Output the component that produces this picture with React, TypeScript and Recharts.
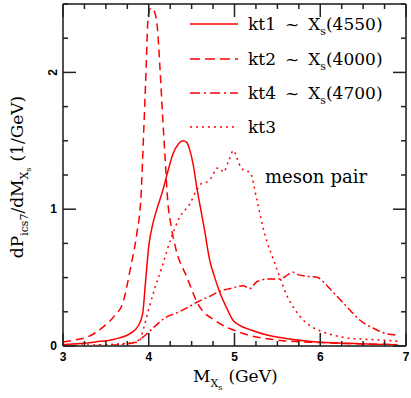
import { LineChart, Line, XAxis, YAxis } from "recharts";

// kt1 ~ Xs(4550), solid
const KT1 = [
  { x: 3.0, y: 0.01 }, { x: 3.2, y: 0.018 }, { x: 3.38, y: 0.03 }, { x: 3.6, y: 0.05 },
  { x: 3.78, y: 0.09 }, { x: 3.88, y: 0.15 }, { x: 3.93, y: 0.24 }, { x: 3.96, y: 0.45 },
  { x: 4.0, y: 0.73 }, { x: 4.05, y: 0.9 }, { x: 4.1, y: 1.01 }, { x: 4.16, y: 1.13 },
  { x: 4.22, y: 1.27 }, { x: 4.28, y: 1.4 }, { x: 4.35, y: 1.48 }, { x: 4.4, y: 1.5 },
  { x: 4.44, y: 1.49 }, { x: 4.48, y: 1.43 }, { x: 4.52, y: 1.32 }, { x: 4.56, y: 1.16 },
  { x: 4.6, y: 1.02 }, { x: 4.65, y: 0.85 }, { x: 4.71, y: 0.63 }, { x: 4.77, y: 0.5 },
  { x: 4.83, y: 0.39 }, { x: 4.9, y: 0.29 }, { x: 4.98, y: 0.19 }, { x: 5.05, y: 0.155 },
  { x: 5.2, y: 0.115 }, { x: 5.38, y: 0.08 }, { x: 5.6, y: 0.055 }, { x: 5.96, y: 0.03 },
  { x: 6.3, y: 0.02 }, { x: 6.6, y: 0.013 }, { x: 6.9, y: 0.01 },
];

// kt2 ~ Xs(4000), dashed
const KT2 = [
  { x: 3.0, y: 0.03 }, { x: 3.15, y: 0.045 }, { x: 3.3, y: 0.07 }, { x: 3.47, y: 0.14 },
  { x: 3.6, y: 0.22 }, { x: 3.7, y: 0.32 }, { x: 3.79, y: 0.58 }, { x: 3.86, y: 0.82 },
  { x: 3.91, y: 1.1 }, { x: 3.94, y: 1.55 }, { x: 3.97, y: 2.04 }, { x: 3.99, y: 2.38 },
  { x: 4.01, y: 2.46 }, { x: 4.04, y: 2.47 }, { x: 4.07, y: 2.44 }, { x: 4.1, y: 2.33 },
  { x: 4.13, y: 2.04 }, { x: 4.16, y: 1.7 }, { x: 4.19, y: 1.38 }, { x: 4.22, y: 1.07 },
  { x: 4.26, y: 0.88 }, { x: 4.32, y: 0.7 }, { x: 4.44, y: 0.51 }, { x: 4.58, y: 0.3 },
  { x: 4.79, y: 0.18 }, { x: 5.06, y: 0.1 }, { x: 5.49, y: 0.044 }, { x: 6.0, y: 0.025 },
  { x: 6.5, y: 0.015 }, { x: 6.9, y: 0.01 },
];

// kt4 ~ Xs(4700), dash-dot
const KT4 = [
  { x: 3.0, y: 0.0 }, { x: 3.5, y: 0.005 }, { x: 3.8, y: 0.02 }, { x: 3.9, y: 0.05 },
  { x: 3.98, y: 0.09 }, { x: 4.1, y: 0.16 }, { x: 4.2, y: 0.21 }, { x: 4.32, y: 0.24 },
  { x: 4.45, y: 0.28 }, { x: 4.56, y: 0.32 }, { x: 4.7, y: 0.36 }, { x: 4.83, y: 0.4 },
  { x: 4.95, y: 0.42 }, { x: 5.1, y: 0.44 }, { x: 5.18, y: 0.42 }, { x: 5.26, y: 0.47 },
  { x: 5.4, y: 0.49 }, { x: 5.53, y: 0.49 }, { x: 5.62, y: 0.52 }, { x: 5.68, y: 0.54 },
  { x: 5.75, y: 0.52 }, { x: 5.84, y: 0.51 }, { x: 5.97, y: 0.5 }, { x: 6.05, y: 0.46 },
  { x: 6.11, y: 0.42 }, { x: 6.23, y: 0.34 }, { x: 6.35, y: 0.26 }, { x: 6.46, y: 0.19 },
  { x: 6.62, y: 0.13 }, { x: 6.77, y: 0.09 }, { x: 6.9, y: 0.08 },
];

// kt3, dotted
const KT3 = [
  { x: 3.0, y: 0.005 }, { x: 3.5, y: 0.01 }, { x: 3.75, y: 0.02 }, { x: 3.88, y: 0.03 },
  { x: 3.95, y: 0.15 }, { x: 4.0, y: 0.27 }, { x: 4.07, y: 0.42 }, { x: 4.15, y: 0.57 },
  { x: 4.25, y: 0.77 }, { x: 4.36, y: 0.94 }, { x: 4.48, y: 1.04 }, { x: 4.56, y: 1.14 },
  { x: 4.62, y: 1.19 }, { x: 4.68, y: 1.2 }, { x: 4.74, y: 1.24 }, { x: 4.79, y: 1.3 },
  { x: 4.83, y: 1.3 }, { x: 4.87, y: 1.27 }, { x: 4.93, y: 1.35 }, { x: 4.99, y: 1.43 },
  { x: 5.03, y: 1.37 }, { x: 5.08, y: 1.3 }, { x: 5.13, y: 1.28 }, { x: 5.18, y: 1.27 },
  { x: 5.26, y: 1.07 }, { x: 5.32, y: 0.9 }, { x: 5.38, y: 0.76 }, { x: 5.45, y: 0.64 },
  { x: 5.53, y: 0.5 }, { x: 5.61, y: 0.37 }, { x: 5.7, y: 0.27 }, { x: 5.8, y: 0.19 },
  { x: 5.9, y: 0.14 }, { x: 6.0, y: 0.11 }, { x: 6.15, y: 0.08 }, { x: 6.31, y: 0.06 },
  { x: 6.5, y: 0.05 }, { x: 6.7, y: 0.044 }, { x: 6.9, y: 0.035 },
];

const X_TICKS = [3, 3.25, 3.5, 3.75, 4, 4.25, 4.5, 4.75, 5, 5.25, 5.5, 5.75, 6, 6.25, 6.5, 6.75, 7];
const X_LABELS = [3, 4, 5, 6, 7];
const Y_TICKS = [0, 0.25, 0.5, 0.75, 1, 1.25, 1.5, 1.75, 2, 2.25, 2.5];
const Y_LABELS = [0, 1, 2];

const RED = "#ff0000";
const FRAME = "#505050";
const TICK = "#222";
const SERIF = "'DejaVu Serif', serif";
const SANS = "'Liberation Sans', Arial, sans-serif";
const MAJOR = 13;
const MINOR = 5;

const frameLine = { stroke: FRAME, strokeWidth: 2 };

function BottomTick({ x, y, payload }: any) {
  const v = payload.value;
  const major = X_LABELS.includes(v);
  return (
    <g>
      <line x1={x} x2={x} y1={y} y2={y - (major ? MAJOR : MINOR)} stroke={TICK} strokeWidth={1.5} />
      {major && (
        <text x={x} y={y + 15} textAnchor="middle" fontFamily={SANS} fontWeight="bold" fontSize={12} fill="#000">
          {v}
        </text>
      )}
    </g>
  );
}

function TopTick({ x, y, payload }: any) {
  const major = X_LABELS.includes(payload.value);
  return <line x1={x} x2={x} y1={y} y2={y + (major ? MAJOR : MINOR)} stroke={TICK} strokeWidth={1.5} />;
}

function LeftTick({ x, y, payload }: any) {
  const v = payload.value;
  const major = Y_LABELS.includes(v);
  return (
    <g>
      <line x1={x} x2={x + (major ? MAJOR : MINOR)} y1={y} y2={y} stroke={TICK} strokeWidth={1.5} />
      {major && (
        <g transform={v === 2 ? `rotate(-90 ${x - 10} ${y})` : undefined}>
          <text
            x={v === 2 ? x - 10 : x - 6}
            y={y + 4}
            textAnchor={v === 2 ? "middle" : "end"}
            fontFamily={SANS}
            fontWeight="bold"
            fontSize={12}
            fill="#000"
          >
            {v}
          </text>
        </g>
      )}
    </g>
  );
}

function RightTick({ x, y, payload }: any) {
  const major = Y_LABELS.includes(payload.value);
  return <line x1={x} x2={x - (major ? MAJOR : MINOR)} y1={y} y2={y} stroke={TICK} strokeWidth={1.5} />;
}

const LEGEND = [
  { name: "kt1", mass: "4550", dash: undefined, y: 24 },
  { name: "kt2", mass: "4000", dash: "10 5", y: 59 },
  { name: "kt4", mass: "4700", dash: "10 4 2 4", y: 93 },
  { name: "kt3", mass: "", dash: "2 4", y: 127 },
];

export default function App() {
  return (
    <div style={{ position: "absolute", left: 0, top: 0, width: 411, height: 398, background: "#fff" }}>
      <LineChart width={411} height={398} margin={{ top: 0, right: 0, bottom: 22, left: 3 }}>
        <XAxis
          type="number"
          dataKey="x"
          domain={[3, 7]}
          ticks={X_TICKS}
          interval={0}
          height={30}
          tickSize={0}
          tickMargin={0}
          axisLine={frameLine}
          tickLine={false}
          tick={<BottomTick />}
          allowDataOverflow
        />
        <XAxis
          xAxisId="top"
          orientation="top"
          type="number"
          dataKey="x"
          domain={[3, 7]}
          ticks={X_TICKS}
          interval={0}
          height={4}
          tickSize={0}
          tickMargin={0}
          axisLine={frameLine}
          tickLine={false}
          tick={<TopTick />}
          allowDataOverflow
        />
        <YAxis
          type="number"
          domain={[0, 2.5]}
          ticks={Y_TICKS}
          interval={0}
          width={60}
          tickSize={0}
          tickMargin={0}
          axisLine={frameLine}
          tickLine={false}
          tick={<LeftTick />}
          allowDataOverflow
        />
        <YAxis
          yAxisId="right"
          orientation="right"
          type="number"
          domain={[0, 2.5]}
          ticks={Y_TICKS}
          interval={0}
          width={5}
          tickSize={0}
          tickMargin={0}
          axisLine={frameLine}
          tickLine={false}
          tick={<RightTick />}
          allowDataOverflow
        />
        <Line data={KT2} dataKey="y" type="monotone" stroke={RED} strokeWidth={1.5} strokeDasharray="8 5" dot={false} isAnimationActive={false} />
        <Line data={KT4} dataKey="y" type="monotone" stroke={RED} strokeWidth={1.5} strokeDasharray="8 3 2 3" dot={false} isAnimationActive={false} />
        <Line data={KT3} dataKey="y" type="monotone" stroke={RED} strokeWidth={1.5} strokeDasharray="2 4" dot={false} isAnimationActive={false} />
        <Line data={KT1} dataKey="y" type="monotone" stroke={RED} strokeWidth={1.5} dot={false} isAnimationActive={false} />
      </LineChart>
      <svg width={411} height={398} style={{ position: "absolute", left: 0, top: 0, pointerEvents: "none" }}>
        {LEGEND.map((l) => (
          <g key={l.name}>
            <line x1={190} x2={238} y1={l.y} y2={l.y} stroke={RED} strokeWidth={1.5} strokeDasharray={l.dash} />
            <text x={248} y={l.y + 6} fontFamily={SERIF} fontSize={17} fill="#000">
              {l.name}
              {l.mass && (
                <>
                  <tspan dx={9}>~</tspan>
                  <tspan dx={9}>X</tspan>
                  <tspan fontSize={11} dy={5}>s</tspan>
                  <tspan dy={-5}>({l.mass})</tspan>
                </>
              )}
            </text>
          </g>
        ))}
        <text x={265} y={183} fontFamily={SERIF} fontSize={18} fill="#000">
          meson<tspan dx={6}>pair</tspan>
        </text>
        <text x={193} y={382} fontFamily={SERIF} fontSize={17} fill="#000">
          M<tspan fontSize={11} dy={5}>X</tspan>
          <tspan fontSize={8} dy={3}>s</tspan>
          <tspan dy={-8} dx={6}>(GeV)</tspan>
        </text>
        <text
          x={23}
          y={177}
          textAnchor="middle"
          transform="rotate(-90 23 177)"
          fontFamily={SERIF}
          fontSize={17}
          fill="#000"
        >
          dP<tspan fontSize={11} dy={5}>ics7</tspan>
          <tspan dy={-5}>/dM</tspan>
          <tspan fontSize={11} dy={5}>X</tspan>
          <tspan fontSize={8} dy={3}>s</tspan>
          <tspan dy={-8} dx={6}>(1/GeV)</tspan>
        </text>
      </svg>
    </div>
  );
}
